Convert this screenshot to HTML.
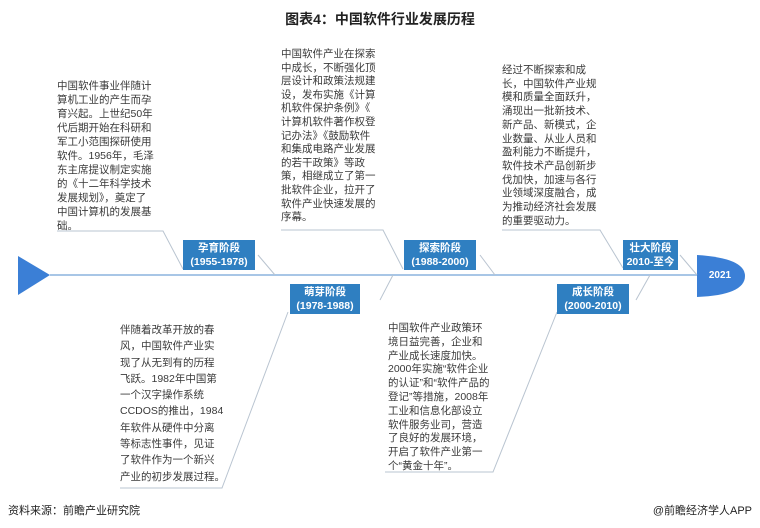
<!DOCTYPE html>
<html><head><meta charset="utf-8"><style>
body{margin:0;width:760px;height:528px;background:#fff;position:relative;overflow:hidden;font-family:"Liberation Sans","Noto Sans CJK SC",sans-serif;}
.t{position:absolute;font-size:10.5px;line-height:14px;color:#3a3a3a;white-space:nowrap;}
.b{position:absolute;background:#2f7fc1;color:#fff;font-weight:bold;font-size:10.5px;line-height:14px;text-align:center;padding-top:1px;box-sizing:border-box;}
</style></head><body>
<div style="position:absolute;top:9px;width:760px;text-align:center;font-size:14px;font-weight:bold;color:#222;">图表4：中国软件行业发展历程</div>
<svg width="760" height="528" style="position:absolute;left:0;top:0">
<line x1="50" y1="275" x2="700" y2="275" stroke="#a8c6e6" stroke-width="2"/>
<polygon points="18,256 50,275 18,295" fill="#3b7fd6"/>
<path d="M697,255 Q745,258 745,276 Q745,295 697,297 Z" fill="#3b7fd6"/>
<g stroke="#b9c4d0" stroke-width="1" fill="none">
<polyline points="57,231 163,231 183,269"/>
<line x1="258" y1="255" x2="275" y2="275"/>
<polyline points="281,230 383,230 403,269"/>
<line x1="480" y1="255" x2="495" y2="275"/>
<polyline points="502,230 600,230 623,268"/>
<line x1="680" y1="255" x2="697" y2="275"/>
<polyline points="120,488 222,488 288,312"/>
<line x1="393" y1="275" x2="380" y2="300"/>
<polyline points="385,472 493,472 557,312"/>
<line x1="650" y1="275" x2="636" y2="300"/>
</g>
</svg>
<div class="b" style="left:183px;top:240px;width:72px;height:30px;">孕育阶段<br>(1955-1978)</div>
<div class="b" style="left:290px;top:284px;width:70px;height:30px;">萌芽阶段<br>(1978-1988)</div>
<div class="b" style="left:404px;top:240px;width:72px;height:30px;">探索阶段<br>(1988-2000)</div>
<div class="b" style="left:557px;top:284px;width:72px;height:30px;">成长阶段<br>(2000-2010)</div>
<div class="b" style="left:623px;top:240px;width:55px;height:30px;">壮大阶段<br>2010-至今</div>
<div style="position:absolute;left:700px;top:270px;width:40px;text-align:center;color:#fff;font-weight:bold;font-size:10px;">2021</div>
<div class="t" style="left:57px;top:79px;">中国软件事业伴随计<br>算机工业的产生而孕<br>育兴起。上世纪50年<br>代后期开始在科研和<br>军工小范围探研使用<br>软件。1956年，毛泽<br>东主席提议制定实施<br>的《十二年科学技术<br>发展规划》，奠定了<br>中国计算机的发展基<br>础。</div>
<div class="t" style="left:281px;top:48px;line-height:13.6px;">中国软件产业在探索<br>中成长，不断强化顶<br>层设计和政策法规建<br>设，发布实施《计算<br>机软件保护条例》《<br>计算机软件著作权登<br>记办法》《鼓励软件<br>和集成电路产业发展<br>的若干政策》等政<br>策，相继成立了第一<br>批软件企业，拉开了<br>软件产业快速发展的<br>序幕。</div>
<div class="t" style="left:502px;top:64px;line-height:13.7px;">经过不断探索和成<br>长，中国软件产业规<br>模和质量全面跃升，<br>涌现出一批新技术、<br>新产品、新模式，企<br>业数量、从业人员和<br>盈利能力不断提升，<br>软件技术产品创新步<br>伐加快，加速与各行<br>业领域深度融合，成<br>为推动经济社会发展<br>的重要驱动力。</div>
<div class="t" style="left:120px;top:322px;line-height:16.3px;">伴随着改革开放的春<br>风，中国软件产业实<br>现了从无到有的历程<br>飞跃。1982年中国第<br>一个汉字操作系统<br>CCDOS的推出，1984<br>年软件从硬件中分离<br>等标志性事件，见证<br>了软件作为一个新兴<br>产业的初步发展过程。</div>
<div class="t" style="left:388px;top:322px;line-height:13.8px;">中国软件产业政策环<br>境日益完善，企业和<br>产业成长速度加快。<br>2000年实施“软件企业<br>的认证”和“软件产品的<br>登记”等措施，2008年<br>工业和信息化部设立<br>软件服务业司，营造<br>了良好的发展环境，<br>开启了软件产业第一<br>个“黄金十年”。</div>
<div style="position:absolute;left:8px;top:502px;font-size:11px;color:#222;">资料来源：前瞻产业研究院</div>
<div style="position:absolute;right:8px;top:502px;font-size:11px;color:#222;">@前瞻经济学人APP</div>
</body></html>
